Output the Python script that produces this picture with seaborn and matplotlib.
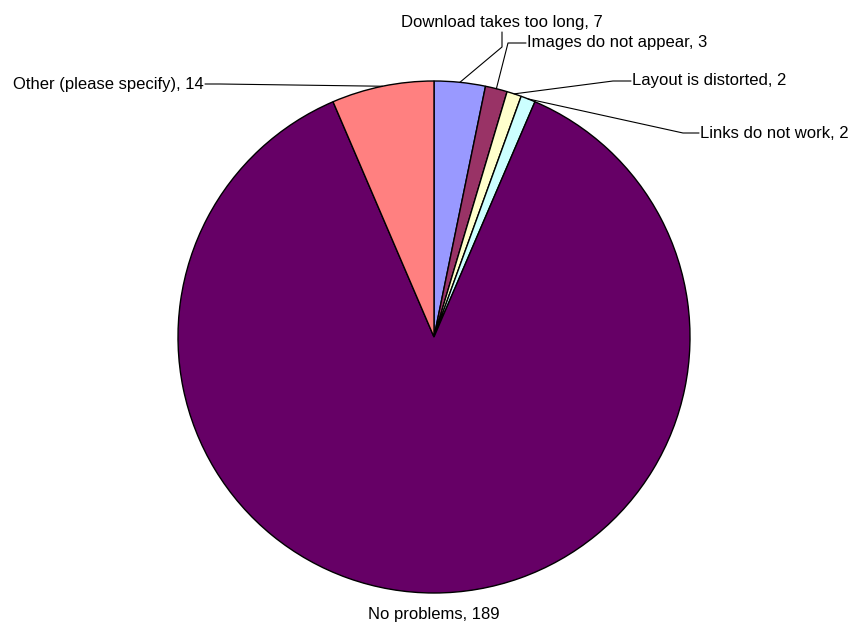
import numpy as np
import matplotlib
matplotlib.use("Agg")
import matplotlib.pyplot as plt
import seaborn as sns

categories = ["Download takes too long", "Images do not appear", "Layout is distorted",
              "Links do not work", "No problems", "Other (please specify)"]
counts = [7, 3, 2, 2, 189, 14]
colors = ["#9999FF", "#993366", "#FFFFCC", "#CCFFFF", "#660066", "#FF8080"]

sns.set_style("white")
plt.rcParams["font.family"] = ["Liberation Sans", "DejaVu Sans"]
plt.rcParams["text.color"] = "black"

W, H = 855, 630
fig = plt.figure(figsize=(W / 100, H / 100), dpi=100)
ax = fig.add_axes([0, 0, 1, 1])

cx, cy, r = 434, H - 337, 256
ax.pie(counts, colors=colors, startangle=90, counterclock=False,
       center=(cx, cy), radius=r, frame=True,
       wedgeprops=dict(edgecolor="black", linewidth=1.0))
ax.set_xlim(0, W)
ax.set_ylim(0, H)
ax.axis("off")

total = sum(counts)
cum = np.cumsum([0] + counts)
mid_angles = [np.deg2rad(90 - (cum[i] + counts[i] / 2) / total * 360) for i in range(len(counts))]

def edge_point(i):
    a = mid_angles[i]
    return cx + r * np.cos(a), cy + r * np.sin(a)

fs = 12
line_kw = dict(color="black", linewidth=0.8)
txt_kw = dict(fontsize=fs, color="black", va="center")

# Download takes too long: elbow up then vertical, label centered above
x0, y0 = edge_point(0)
ax.plot([x0, 502, 502], [y0, H - 47, H - 32], **line_kw)
ax.text(502, H - 22, f"{categories[0]}, {counts[0]}", ha="center", **txt_kw)

# Images do not appear
x0, y0 = edge_point(1)
ax.plot([x0, 508, 526], [y0, H - 43, H - 43], **line_kw)
ax.text(527, H - 43, f"{categories[1]}, {counts[1]}", ha="left", **txt_kw)

# Layout is distorted
x0, y0 = edge_point(2)
ax.plot([x0, 613, 631], [y0, H - 81, H - 81], **line_kw)
ax.text(632, H - 81, f"{categories[2]}, {counts[2]}", ha="left", **txt_kw)

# Links do not work
x0, y0 = edge_point(3)
ax.plot([x0, 683, 699], [y0, H - 133, H - 133], **line_kw)
ax.text(700, H - 133, f"{categories[3]}, {counts[3]}", ha="left", **txt_kw)

# No problems: label below the pie
ax.text(cx, H - 614, f"{categories[4]}, {counts[4]}", ha="center", **txt_kw)

# Other (please specify)
x0, y0 = edge_point(5)
ax.plot([x0, 220, 205], [y0, H - 84, H - 84], **line_kw)
ax.text(204, H - 84, f"{categories[5]}, {counts[5]}", ha="right", **txt_kw)

fig.savefig("out.png", dpi=100, facecolor="white")
